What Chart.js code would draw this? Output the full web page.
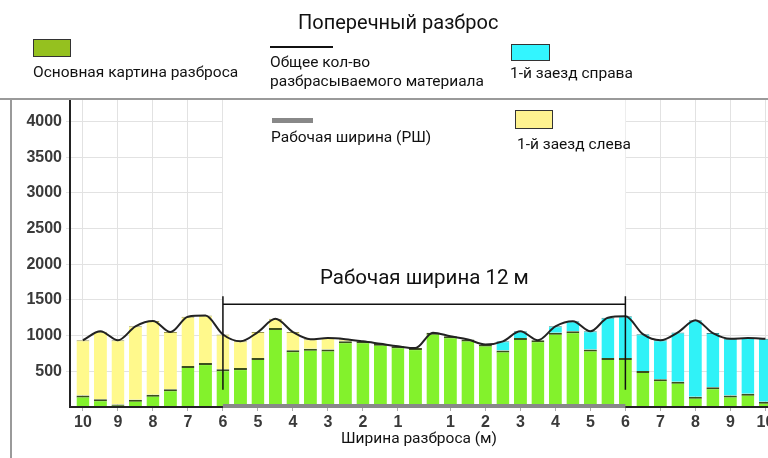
<!DOCTYPE html>
<html>
<head>
<meta charset="utf-8">
<script src="https://cdn.jsdelivr.net/npm/chart.js@4.4.1/dist/chart.umd.min.js"></script>
<style>
  html, body { margin: 0; padding: 0; background: #fff; overflow: hidden; }
  #wrap { position: relative; width: 768px; height: 458px; }
  canvas { position: absolute; left: 0; top: 0; }
  .t { position: absolute; font-family: Roboto, "Liberation Sans", sans-serif; color: #111; white-space: nowrap; line-height: 1; font-size: 15.5px; }
  .box { position: absolute; border: 1.5px solid #333; box-sizing: border-box; }
  .ln { position: absolute; }
</style>
</head>
<body>
<div id="wrap">
  <canvas id="chart" width="768" height="458"></canvas>

  <div class="t" style="left:298px; top:12px; font-size:20px;">Поперечный разброс</div>

  <div class="box" style="left:33px; top:39px; width:38px; height:18px; background:#95c11f;"></div>
  <div class="t" style="left:33px; top:65px;">Основная картина разброса</div>

  <div class="ln" style="left:270px; top:46px; width:63px; height:2px; background:#111;"></div>
  <div class="t" style="left:270px; top:55px;">Общее кол-во</div>
  <div class="t" style="left:270px; top:74px;">разбрасываемого материала</div>

  <div class="box" style="left:511px; top:44px; width:39px; height:17px; background:#33f5ff;"></div>
  <div class="t" style="left:510px; top:66px;">1-й заезд справа</div>

  <div class="ln" style="left:272px; top:118px; width:41px; height:5px; background:#888;"></div>
  <div class="t" style="left:271px; top:130px;">Рабочая ширина (РШ)</div>

  <div class="box" style="left:515px; top:110px; width:38px; height:19px; background:#fff390;"></div>
  <div class="t" style="left:517px; top:137px;">1-й заезд слева</div>

  <div class="t" style="left:320px; top:267px; font-size:20.5px;">Рабочая ширина 12 м</div>
</div>

<script>
// bar slots 1..40, left 10 m -> right 10 m
const green = [160, 110, 35, 100, 170, 250, 575, 615, 530, 545,
               685, 1105, 795, 815, 805, 920, 920, 885, 850, 825,
               1040, 990, 945, 875, 790, 965, 935, 1040, 1060, 805,
               685, 685, 505, 390, 355, 145, 275, 160, 185, 75];
const leftPass = [775, 945, 900, 1030, 1035, 800, 690, 665, 485, 375,
                  365, 130, 255, 135, 160, 30, 0, 0, 0, 0,
                  0, 0, 0, 0, 0, 0, 0, 0, 0, 0,
                  0, 0, 0, 0, 0, 0, 0, 0, 0, 0];
const rightPass = [0, 0, 0, 0, 0, 0, 0, 0, 0, 0,
                   0, 0, 0, 0, 0, 0, 0, 0, 0, 0,
                   0, 0, 0, 0, 130, 95, 0, 90, 140, 255,
                   565, 585, 515, 545, 690, 1070, 760, 795, 780, 880];
const total = [935, 1060, 935, 1130, 1205, 1050, 1265, 1280, 1015, 920,
               1050, 1235, 1050, 950, 965, 950, 920, 885, 850, 825,
               1040, 990, 945, 875, 920, 1060, 935, 1130, 1200, 1060,
               1250, 1270, 1020, 935, 1045, 1215, 1035, 955, 965, 955];

const tickPos = [1, 3, 5, 7, 9, 11, 13, 15, 17, 19, 22, 24, 26, 28, 30, 32, 34, 36, 38, 40];
const tickText = ["10", "9", "8", "7", "6", "5", "4", "3", "2", "1",
                  "1", "2", "3", "4", "5", "6", "7", "8", "9", "10"];
const yTicks = [500, 1000, 1500, 2000, 2500, 3000, 3500, 4000];

const pts = arr => arr.map((v, i) => ({ x: i + 1, y: v }));
const axisFont = { family: "'Liberation Sans', Arial, sans-serif", size: 16, weight: "bold" };

const decor = {
  id: "decor",
  beforeDatasetsDraw(chart) {
    const { ctx, chartArea: a, scales: { x } } = chart;
    const l = x.getPixelForValue(tickPos[4]), r = x.getPixelForValue(tickPos[15]);
    ctx.save();
    ctx.fillStyle = "#fff";
    ctx.fillRect(l, a.top, r - l, a.bottom - a.top);
    ctx.restore();
  },
  afterDatasetsDraw(chart) {
    const { ctx, chartArea: a, scales: { x, y } } = chart;
    const l = x.getPixelForValue(tickPos[4]), r = x.getPixelForValue(tickPos[15]);
    ctx.save();
    // x axis
    ctx.strokeStyle = "#222";
    ctx.lineWidth = 2;
    ctx.beginPath();
    ctx.moveTo(a.left, a.bottom);
    ctx.lineTo(a.right, a.bottom);
    ctx.stroke();
    // working width on the axis
    ctx.strokeStyle = "#888";
    ctx.lineWidth = 4;
    ctx.beginPath();
    ctx.moveTo(l, a.bottom - 1);
    ctx.lineTo(r, a.bottom - 1);
    ctx.stroke();
    // bracket
    ctx.strokeStyle = "#111";
    ctx.lineWidth = 1.5;
    const yb = y.getPixelForValue(1440);
    ctx.beginPath();
    ctx.moveTo(l, yb); ctx.lineTo(r, yb);
    ctx.moveTo(l, y.getPixelForValue(1550)); ctx.lineTo(l, y.getPixelForValue(240));
    ctx.moveTo(r, y.getPixelForValue(1550)); ctx.lineTo(r, y.getPixelForValue(240));
    ctx.stroke();
    ctx.restore();
  },
  afterDraw(chart) {
    const { ctx, chartArea: a } = chart;
    ctx.save();
    ctx.strokeStyle = "#9a9a9a";
    ctx.lineWidth = 2;
    ctx.beginPath();
    ctx.moveTo(0, a.top - 1); ctx.lineTo(chart.width, a.top - 1);
    ctx.moveTo(11, a.top - 1); ctx.lineTo(11, chart.height);
    ctx.stroke();
    ctx.restore();
  }
};

new Chart(document.getElementById("chart"), {
  data: {
    datasets: [
      {
        type: "line",
        label: "Общее кол-во разбрасываемого материала",
        data: pts(total),
        borderColor: "#222",
        borderWidth: 2,
        cubicInterpolationMode: "monotone",
        pointRadius: 0,
        stack: "line",
        order: 0,
      },
      {
        type: "bar",
        label: "Основная картина разброса",
        data: pts(green),
        backgroundColor: "#83f22c",
        borderColor: "#3b4f1c",
        borderWidth: { top: 2, left: 0, right: 0, bottom: 0 },
        stack: "s",
        order: 1,
      },
      {
        type: "bar",
        label: "1-й заезд слева",
        data: pts(leftPass),
        backgroundColor: "#fff98c",
        borderColor: "#9a9650",
        borderWidth: { top: 1, left: 0, right: 0, bottom: 0 },
        stack: "s",
        order: 1,
      },
      {
        type: "bar",
        label: "1-й заезд справа",
        data: pts(rightPass),
        backgroundColor: "#30f2f7",
        borderColor: "#3a8a8c",
        borderWidth: { top: 1, left: 0, right: 0, bottom: 0 },
        stack: "s",
        order: 1,
      },
    ],
  },
  options: {
    responsive: false,
    animation: false,
    layout: { padding: { top: 100, left: 0, right: 0, bottom: 0 } },
    datasets: { bar: { barPercentage: 0.74, categoryPercentage: 1 } },
    plugins: { legend: { display: false }, tooltip: { enabled: false } },
    scales: {
      x: {
        type: "linear",
        min: 0.26,
        max: 40.15,
        offset: false,
        stacked: true,
        afterBuildTicks: s => { s.ticks = tickPos.map(v => ({ value: v })); },
        afterFit: s => { s.height = 51; s.paddingLeft = 0; s.paddingRight = 0; },
        ticks: {
          autoSkip: false,
          maxRotation: 0,
          padding: 2,
          color: "#3a3a3a",
          font: axisFont,
          callback: v => tickText[tickPos.indexOf(v)],
        },
        grid: { offset: false, color: "#e2e2e2", tickLength: 4, tickColor: "#aaa" },
        border: { display: false },
        title: {
          display: true,
          text: "Ширина разброса (м)",
          color: "#111",
          font: { family: "Roboto, 'Liberation Sans', sans-serif", size: 15.5 },
          padding: { top: 0, bottom: 10 },
        },
      },
      y: {
        min: 0,
        max: 4300,
        stacked: true,
        afterBuildTicks: s => { s.ticks = yTicks.map(v => ({ value: v })); },
        afterFit: s => { s.width = 70; s.paddingTop = 0; s.paddingBottom = 0; },
        ticks: { padding: 4, color: "#3a3a3a", font: axisFont, callback: v => String(v) },
        grid: { color: "#e2e2e2", tickLength: 4 },
        border: { color: "#222", width: 2 },
      },
    },
  },
  plugins: [decor],
});
</script>
</body>
</html>
